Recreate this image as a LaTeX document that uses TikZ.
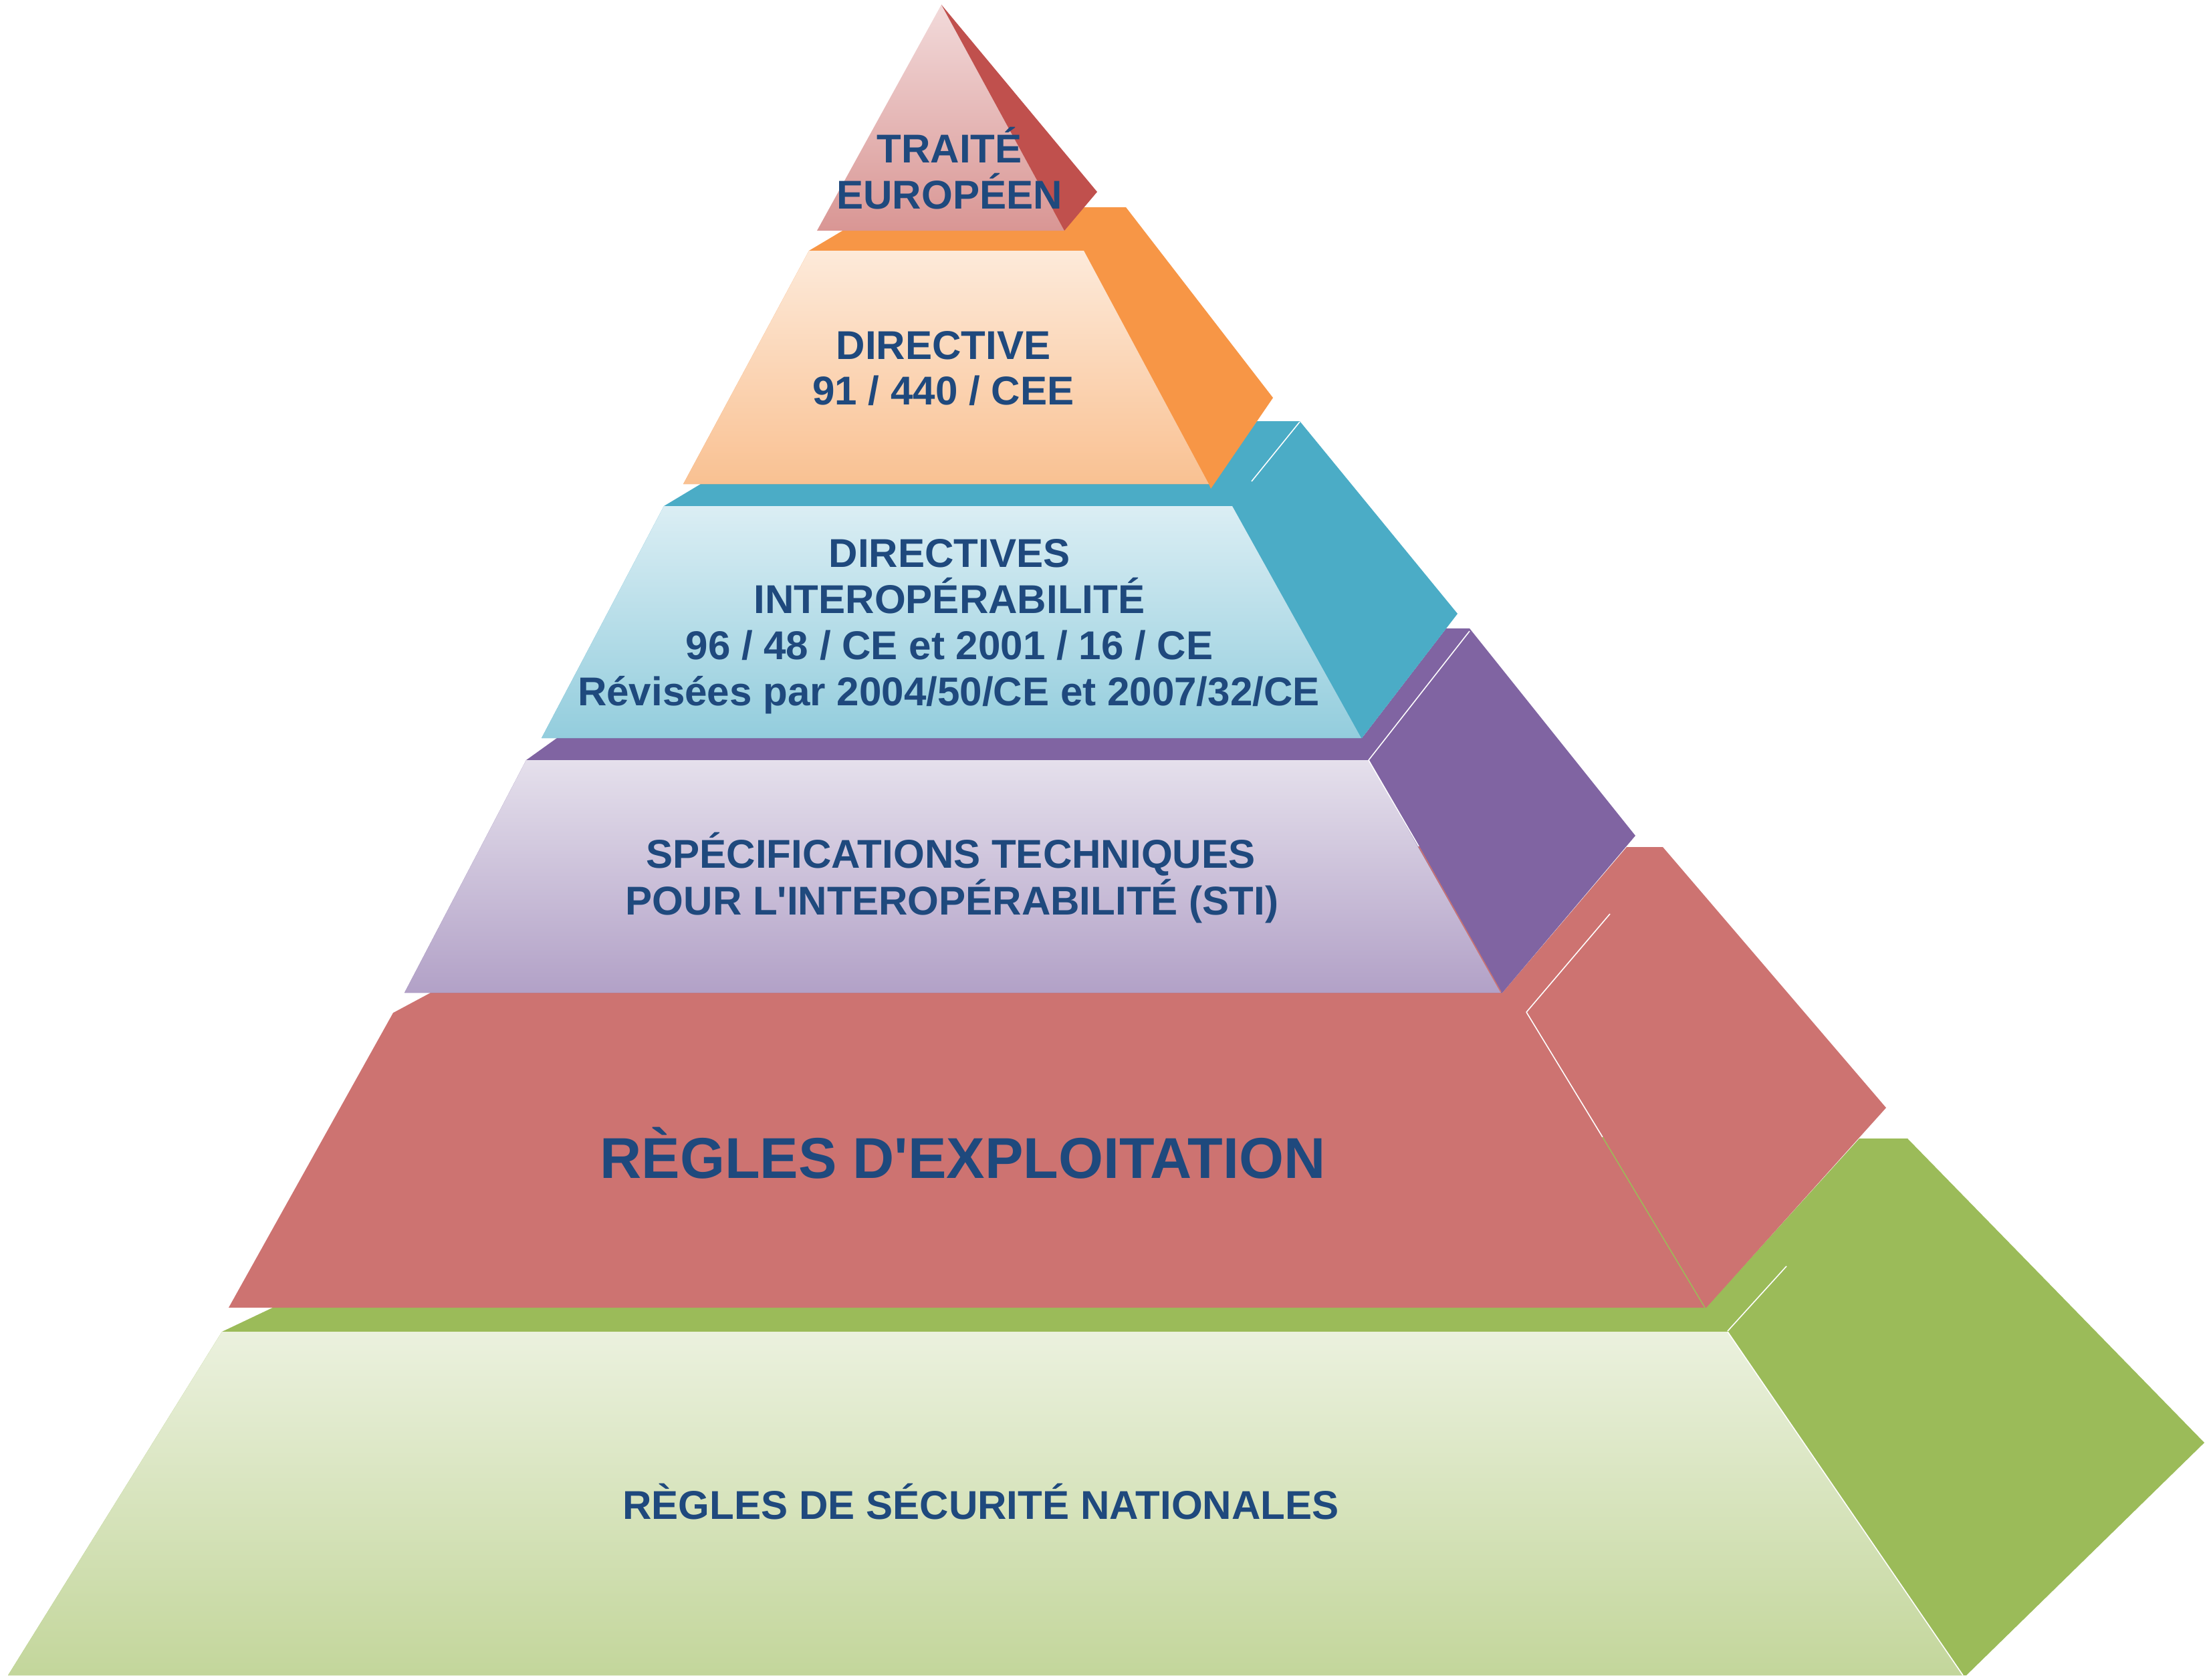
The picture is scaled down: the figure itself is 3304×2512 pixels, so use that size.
\documentclass[tikz,border=0pt]{standalone}
\usepackage{fontspec}
\setmainfont{Liberation Sans}[Ligatures=TeXOff]
\definecolor{txtblue}{RGB}{31,73,125}
\definecolor{rside}{RGB}{192,80,77}
\definecolor{rtop}{RGB}{242,218,218}
\definecolor{rbot}{RGB}{217,150,148}
\definecolor{oside}{RGB}{247,150,70}
\definecolor{otop}{RGB}{253,234,218}
\definecolor{obot}{RGB}{249,193,146}
\definecolor{bside}{RGB}{75,172,198}
\definecolor{btop}{RGB}{219,238,244}
\definecolor{bbot}{RGB}{147,205,221}
\definecolor{pside}{RGB}{128,100,162}
\definecolor{ptop}{RGB}{229,224,236}
\definecolor{pbot}{RGB}{178,161,199}
\definecolor{redtier}{RGB}{205,115,113}
\definecolor{gside}{RGB}{155,187,89}
\definecolor{gtop}{RGB}{235,241,222}
\definecolor{gbot}{RGB}{195,214,155}
\begin{document}
\begin{tikzpicture}[x=0.01cm,y=-0.01cm,
  lbl/.style={font=\bfseries\fontsize{17.1}{19.6}\selectfont, text=txtblue, inner sep=0pt, anchor=base},
  biglbl/.style={lbl, font=\bfseries\fontsize{24.5}{28}\selectfont},
  seam/.style={white, line width=0.45pt}]
\useasboundingbox (0,0) rectangle (3304,2512);

% ---- tier 6 : green
\fill[gside] (332,1992) -- (410,1955) -- (2552,1955) -- (2781,1703) -- (2853,1703) -- (3297,2158) -- (2941,2506) -- (12,2506) -- cycle;
\shade[top color=gtop, bottom color=gbot] (332,1992) -- (2584,1992) -- (2936,2506) -- (12,2506) -- cycle;
\draw[seam] (2584,1992) -- (2936,2506);
\draw[seam] (2672,1894) -- (2584,1991);
\node (t6) [lbl] at (1467,2272) {RÈGLES DE SÉCURITÉ NATIONALES};

% ---- tier 5 : red
\fill[redtier] (588,1515) -- (644,1485) -- (2247,1485) -- (2433,1267) -- (2487,1267) -- (2821,1657) -- (2552,1956) -- (342,1956) -- cycle;
\draw[seam] (2283,1514) -- (2397,1701);
\draw[gside, line width=0.45pt] (2397,1701) -- (2550,1956);
\draw[seam] (2408,1367) -- (2283,1514);
\node (t5) [biglbl] at (1440,1762) {RÈGLES D'EXPLOITATION};

% ---- tier 4 : purple
\fill[pside] (787,1137) -- (833,1104) -- (2037,1104) -- (2163,940) -- (2198,940) -- (2446,1250) -- (2247,1485) -- (605,1485) -- cycle;
\shade[top color=ptop, bottom color=pbot] (787,1137) -- (2047,1137) -- (2245,1485) -- (605,1485) -- cycle;
\draw[seam] (2047,1137) -- (2122,1266);
\draw[redtier, line width=0.45pt] (2122,1266) -- (2245,1484);
\draw[seam] (2198,944) -- (2047,1137);
\node (t4a) [lbl] at (1422,1298) {SPÉCIFICATIONS TECHNIQUES};
\node (t4b) [lbl] at (1424,1368) {POUR L'INTEROPÉRABILITÉ (STI)};

% ---- tier 3 : blue
\fill[bside] (993,757) -- (1048,724) -- (1811,724) -- (1880,630) -- (1944,630) -- (2180,918) -- (2037,1104) -- (810,1104) -- cycle;
\shade[top color=btop, bottom color=bbot] (993,757) -- (1843,757) -- (2036,1104) -- (810,1104) -- cycle;
\draw[seam] (1944,631) -- (1872,720);
\node (t3a) [lbl] at (1420,848) {DIRECTIVES};
\node (t3b) [lbl] at (1420,917) {INTEROPÉRABILITÉ};
\node (t3c) [lbl] at (1420,986) {96 / 48 / CE et 2001 / 16 / CE};
\node (t3d) [lbl] at (1419,1055) {Révisées par 2004/50/CE et 2007/32/CE};

% ---- tier 2 : orange
\fill[oside] (1210,375) -- (1262,344) -- (1624,310) -- (1684,310) -- (1904,595) -- (1811,731) -- (1808,724) -- (1022,724) -- cycle;
\shade[top color=otop, bottom color=obot] (1210,375) -- (1621,375) -- (1808,724) -- (1022,724) -- cycle;
\node (t2a) [lbl] at (1411,537) {DIRECTIVE};
\node (t2b) [lbl] at (1411,605) {91 / 440 / CEE};

% ---- tier 1 : triangle
\shade[top color=rtop, bottom color=rbot] (1408,7) -- (1592,345) -- (1222,345) -- cycle;
\fill[rside] (1408,7) -- (1641,287) -- (1592,345) -- cycle;
\node (t1a) [lbl] at (1420,243) {TRAITÉ};
\node (t1b) [lbl] at (1420,312) {EUROPÉEN};
\end{tikzpicture}
\end{document}
